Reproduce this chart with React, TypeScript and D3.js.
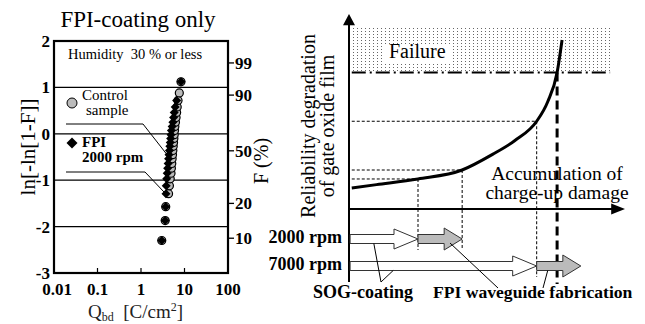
import React from 'react';
import * as d3 from 'd3';

// ---- left chart data (Weibull plot) ----
const qTicks = [0.01, 0.1, 1, 10, 100];
const wTicks = [-3, -2, -1, 0, 1, 2];
const fTicks = [10, 20, 50, 90, 99];

const ctrlQ = [3.0, 3.6, 3.7, 4.3, 4.5, 4.7, 4.9, 5.0, 5.1, 5.2, 5.3, 5.4, 5.5, 5.6, 5.7, 5.8, 5.9, 6.0, 6.2, 6.4, 6.6, 6.8, 7.1, 7.6, 8.3];
const ctrlW = [-2.3, -1.87, -1.57, -1.29, -1.12, -0.97, -0.85, -0.74, -0.64, -0.54, -0.45, -0.36, -0.27, -0.19, -0.1, -0.02, 0.07, 0.16, 0.25, 0.35, 0.46, 0.58, 0.72, 0.88, 1.12];
const fpiQ = [3.0, 3.6, 3.7, 3.75, 3.8, 3.9, 4.0, 4.1, 4.2, 4.3, 4.4, 4.5, 4.6, 4.7, 4.8, 4.9, 5.0, 5.2, 5.4, 5.6, 5.8, 6.1, 6.6, 8.3];
const fpiW = [-2.3, -1.87, -1.57, -1.29, -1.12, -0.97, -0.85, -0.74, -0.64, -0.54, -0.45, -0.36, -0.27, -0.19, -0.1, -0.02, 0.07, 0.16, 0.25, 0.35, 0.46, 0.58, 0.72, 1.12];

// ---- right chart data (schematic) ----
const damage = [1, 10, 25, 41, 52, 60, 68, 72, 75.4, 77.2];
const degradation = [10.8, 12.5, 15.4, 20, 28, 35, 45, 55, 70, 86.7];
const failureLevel = 70;
const failureDamage = 75.4;
const rowLabels = ['2000 rpm', '7000 rpm'];
const sogEnd = [25, 68];
const fpiEnd = [41, 84];

const serif = '"Liberation Serif", "Times New Roman", serif';

export default function App() {
  // left scales
  const x = d3.scaleLog().domain([0.01, 100]).range([54, 228]);
  const y = d3.scaleLinear().domain([-3, 2]).range([273, 41]);
  const weib = (f: number) => Math.log(-Math.log(1 - f / 100));

  // right scales
  const xd = d3.scaleLinear().domain([0, 100]).range([349, 625]);
  const yd = d3.scaleLinear().domain([0, 100]).range([209, 14]);
  const curve = d3.line<number>()
    .x((d, i) => xd(damage[i]))
    .y(d => yd(d))
    .curve(d3.curveMonotoneX);
  const levelAt = (dm: number) => degradation[damage.indexOf(dm)];

  const rowY = [239, 266];

  const arrow = (x0: number, x1: number, cy: number, bh: number, hh: number, hl: number) => {
    const hs = x1 - hl;
    return `M${x0},${cy - bh / 2}L${hs},${cy - bh / 2}L${hs},${cy - hh / 2}L${x1},${cy}L${hs},${cy + hh / 2}L${hs},${cy + bh / 2}L${x0},${cy + bh / 2}Z`;
  };

  const diamond = (cx: number, cy: number, r: number) =>
    `M${cx},${cy - r}L${cx + r},${cy}L${cx},${cy + r}L${cx - r},${cy}Z`;

  return (
    <svg width={645} height={324} style={{ position: 'absolute', left: 0, top: 0, background: '#fff', fontFamily: serif }}>
      <defs>
        <pattern id="dots" width={4} height={3} patternUnits="userSpaceOnUse">
          <rect x={1} y={1} width={1} height={1} fill="#666" />
        </pattern>
      </defs>

      {/* ---------- left: Weibull plot ---------- */}
      <text x={138} y={27} fontSize={23} textAnchor="middle">FPI-coating only</text>

      {wTicks.slice(1, -1).map(t => (
        <line key={t} x1={54} x2={228} y1={y(t)} y2={y(t)} stroke="#000" strokeWidth={1.3} />
      ))}
      {qTicks.slice(1, -1).map(t => (
        <line key={t} x1={x(t)} x2={x(t)} y1={273} y2={268} stroke="#000" strokeWidth={1.2} />
      ))}
      {fTicks.map(f => (
        <g key={f}>
          <line x1={228} x2={234} y1={y(weib(f))} y2={y(weib(f))} stroke="#000" strokeWidth={1.3} />
          <text x={235} y={y(weib(f)) + 6} fontSize={17} fontWeight="bold">{f}</text>
        </g>
      ))}
      <rect x={54} y={41} width={174} height={232} fill="none" stroke="#000" strokeWidth={2.2} />

      {wTicks.map(t => (
        <text key={t} x={50} y={y(t) + 6} fontSize={17} fontWeight="bold" textAnchor="end">{t}</text>
      ))}
      {qTicks.map(t => (
        <text key={t} x={x(t) + (t === 0.01 ? 3 : 0)} y={295} fontSize={17} fontWeight="bold" textAnchor="middle">{t}</text>
      ))}

      <text transform="translate(35,147) rotate(-90)" fontSize={21} textAnchor="middle">ln[-ln[1-F]]</text>
      <text transform="translate(268,161) rotate(-90)" fontSize={20} textAnchor="middle">F (%)</text>
      <text x={88} y={318} fontSize={19} fill="#222">
        Q<tspan fontSize={12} dy={3}>bd</tspan><tspan dy={-3}>{'\u00a0 [C/cm'}</tspan><tspan fontSize={12} dy={-7}>2</tspan><tspan dy={7}>]</tspan>
      </text>

      <text x={68} y={59} fontSize={14.5}>{'Humidity\u00a0 30 % or less'}</text>
      <circle cx={72} cy={103} r={5} fill="#bbb" stroke="#000" strokeWidth={1} />
      <text x={82} y={100} fontSize={15}>Control</text>
      <text x={86} y={115} fontSize={15}>sample</text>
      <path d={diamond(72, 143, 5.5)} fill="#000" />
      <text x={82} y={147} fontSize={15} fontWeight="bold">FPI</text>
      <text x={82} y={162} fontSize={15} fontWeight="bold">2000 rpm</text>
      <polyline points="66,124 143,124 172,161" fill="none" stroke="#000" strokeWidth={1} />
      <polyline points="66,172 145,172 164,192" fill="none" stroke="#000" strokeWidth={1} />

      {ctrlQ.map((q, i) => (
        <circle key={'c' + i} cx={x(q)} cy={y(ctrlW[i])} r={4} fill="#bbb" stroke="#000" strokeWidth={1.2} />
      ))}
      {fpiQ.map((q, i) => (
        <path key={'f' + i} d={diamond(x(q), y(fpiW[i]), 4.5)} fill="#000" />
      ))}

      {/* ---------- right: schematic ---------- */}
      <rect x={xd(1)} y={yd(93.3)} width={xd(94.6) - xd(1)} height={yd(failureLevel) - yd(93.3)} fill="url(#dots)" />
      <rect x={385} y={44} width={66} height={18} fill="#fff" />
      <text x={389} y={58} fontSize={20}>Failure</text>
      <line x1={xd(1)} x2={xd(94.6)} y1={yd(failureLevel)} y2={yd(failureLevel)} stroke="#000" strokeWidth={2} strokeDasharray="14,4,2,4" />

      {/* dotted guides */}
      {[sogEnd[0], fpiEnd[0], sogEnd[1]].map((dm, i) => (
        <g key={dm}>
          <line x1={xd(1)} x2={xd(dm)} y1={yd(levelAt(dm))} y2={yd(levelAt(dm))} stroke="#000" strokeWidth={1} strokeDasharray="3,2" />
          <line x1={xd(dm)} x2={xd(dm)} y1={yd(levelAt(dm))} y2={i === 2 ? 277 : 250} stroke="#000" strokeWidth={1} strokeDasharray="3,2" />
        </g>
      ))}

      <path d={curve(degradation) || ''} fill="none" stroke="#000" strokeWidth={3} />
      <line x1={xd(failureDamage)} x2={xd(failureDamage)} y1={yd(failureLevel)} y2={284} stroke="#000" strokeWidth={3} strokeDasharray="9,5" />

      {/* axes */}
      <line x1={349} x2={349} y1={yd(97)} y2={282} stroke="#000" strokeWidth={2} />
      <path d={`M349,${yd(100)}L343,${yd(94.2)}L355,${yd(94.2)}Z`} fill="#000" />
      <line x1={349} x2={xd(96)} y1={209} y2={209} stroke="#000" strokeWidth={2} />
      <path d={`M${xd(100)},209L${xd(95)},203.5L${xd(95)},214.5Z`} fill="#000" />

      <text transform="translate(315,126) rotate(-90)" fontSize={20} textAnchor="middle">Reliability degradation</text>
      <text transform="translate(334,126) rotate(-90)" fontSize={20} textAnchor="middle">of gate oxide film</text>
      <text x={557} y={180} fontSize={19.5} textAnchor="middle">Accumulation of</text>
      <text x={557} y={199} fontSize={19.5} textAnchor="middle">charge-up damage</text>

      {/* process arrows */}
      {rowLabels.map((lab, i) => (
        <g key={lab}>
          <text x={342} y={rowY[i] + 4} fontSize={18} fontWeight="bold" textAnchor="end">{lab}</text>
          <path d={arrow(xd(0.4), xd(sogEnd[i]), rowY[i], 9, 20, 24)} fill="#fff" stroke="#333" strokeWidth={1} />
          <path d={arrow(xd(sogEnd[i]), xd(fpiEnd[i]), rowY[i], 9, 22, 18)} fill="#bbb" stroke="#333" strokeWidth={1} />
        </g>
      ))}

      <polyline points={`${xd(9)},${rowY[0] + 4.5} 381,282 ${xd(16)},${rowY[1] + 4.5}`} fill="none" stroke="#000" strokeWidth={1} />
      <line x1={498} y1={288} x2={xd(36.6)} y2={rowY[0] + 4} stroke="#000" strokeWidth={1} />
      <line x1={543} y1={288} x2={xd(72)} y2={rowY[1] + 4.5} stroke="#000" strokeWidth={1} />

      <text x={313} y={298} fontSize={18} fontWeight="bold">SOG-coating</text>
      <text x={433} y={298} fontSize={17.6} fontWeight="bold">FPI waveguide fabrication</text>
    </svg>
  );
}
